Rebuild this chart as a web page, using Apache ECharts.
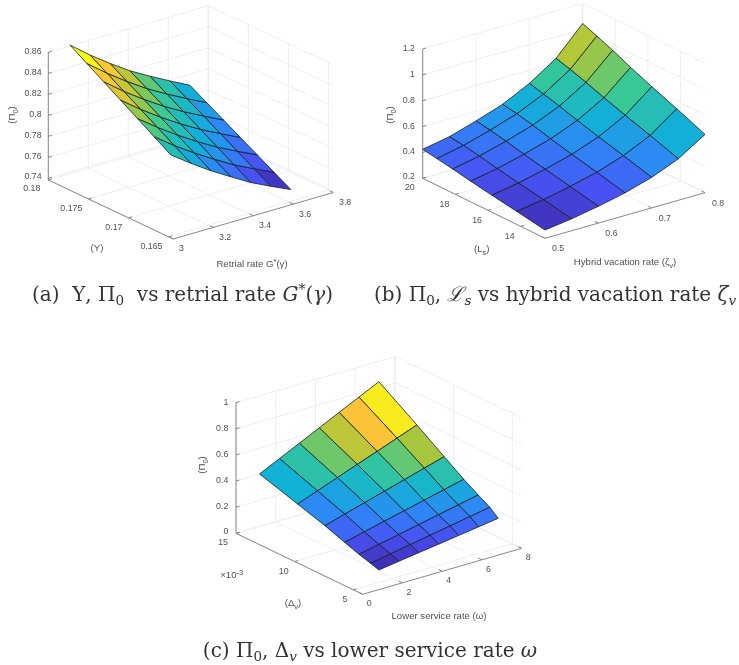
<!DOCTYPE html>
<html><head><meta charset="utf-8">
<style>html,body{margin:0;padding:0;background:#fff}#c{width:739px;height:665px}</style>
<script src="https://cdn.jsdelivr.net/npm/echarts@6/dist/echarts.min.js"></script>
</head><body><div id="c"></div>
<script>
// ---------- data ----------
const xTicksA = [3, 3.2, 3.4, 3.6, 3.8];
const yTicksA = [0.18, 0.175, 0.17, 0.165];
const zTicksA = [0.74, 0.76, 0.78, 0.8, 0.82, 0.84, 0.86];
const xLabelsA = ['3', '3.2', '3.4', '3.6', '3.8'];
const yLabelsA = ['0.18', '0.175', '0.17', '0.165'];
const zLabelsA = ['0.74', '0.76', '0.78', '0.8', '0.82', '0.84', '0.86'];
const xGridA = [3.1, 3.2, 3.3, 3.4, 3.5, 3.6, 3.7];
const yGridA = [0.1798, 0.1777, 0.1756, 0.1735, 0.1714, 0.1693, 0.1672];
const zGridA = [
  [.8622,.8471,.8336,.8210,.8103,.8003,.7906],
  [.8523,.8375,.8241,.8117,.8010,.7911,.7816],
  [.8424,.8278,.8146,.8025,.7917,.7820,.7726],
  [.8325,.8182,.8052,.7932,.7824,.7728,.7636],
  [.8226,.8086,.7957,.7839,.7730,.7636,.7546],
  [.8127,.7989,.7862,.7747,.7637,.7545,.7456],
  [.8028,.7893,.7767,.7654,.7544,.7453,.7366]
];
// face colour values of panel (a), read from the faces themselves
const cFaceA = [
  [.8622,.8459,.8295,.8145,.8020,.7894],
  [.8459,.8320,.8195,.8070,.7956,.7806],
  [.8371,.8220,.8094,.7981,.7868,.7730],
  [.8233,.8107,.7994,.7894,.7780,.7642],
  [.8120,.7994,.7894,.7780,.7680,.7554],
  [.7994,.7868,.7743,.7642,.7542,.7429]
];
const xTicksB = [0.5, 0.6, 0.7, 0.8];
const yTicksB = [20, 18, 16, 14];
const zTicksB = [0.2, 0.4, 0.6, 0.8, 1, 1.2];
const xLabelsB = ['0.5', '0.6', '0.7', '0.8'];
const yLabelsB = ['20', '18', '16', '14'];
const zLabelsB = ['0.2', '0.4', '0.6', '0.8', '1', '1.2'];
const xGridB = [0.5, 0.55, 0.6, 0.65, 0.7, 0.75, 0.8];
const yGridB = [12.5, 14.23, 15.76, 17.06, 18.16, 19.13, 20];
const zGridB = [
  [.264,.292,.330,.375,.436,.521,.651],
  [.301,.333,.376,.427,.497,.594,.742],
  [.332,.367,.415,.471,.548,.656,.818],
  [.360,.398,.450,.511,.594,.711,.887],
  [.386,.427,.483,.548,.637,.762,.951],
  [.406,.449,.508,.577,.670,.802,1.001],
  [.424,.463,.526,.596,.699,.834,1.045]
];
const xTicksC = [0, 2, 4, 6, 8];
const yTicksC = [15, 10, 5];
const zTicksC = [0, 0.2, 0.4, 0.6, 0.8, 1];
const xLabelsC = ['0', '2', '4', '6', '8'];
const yLabelsC = ['15', '10', '5'];
const zLabelsC = ['0', '0.2', '0.4', '0.6', '0.8', '1'];
const xGridC = [1.17, 2.17, 3.17, 4.17, 5.17, 6.17, 7.17];
const yGridC = [4.8, 5.51, 6.5, 7.73, 9.4, 11.73, 14.97];
const zGridC = [
  [.109,.131,.153,.174,.196,.218,.240],
  [.129,.157,.184,.212,.239,.267,.294],
  [.155,.187,.218,.250,.282,.313,.345],
  [.194,.230,.267,.303,.339,.376,.412],
  [.249,.293,.337,.381,.425,.469,.513],
  [.314,.371,.428,.485,.541,.598,.655],
  [.404,.478,.551,.625,.699,.772,.846]
];
// ---------- view set-up ----------
const SANS = '"Liberation Sans", Arial, sans-serif';
const SERIF = '"DejaVu Serif", "Liberation Serif", serif';
const TICK_FS = 8.8, TITLE_FS = 9.6, TEXT = '#505050';
const SUB = {fontSize: 7.5, fontFamily: SANS, fill: TEXT, color: TEXT, verticalAlign: 'bottom', padding: [7, 0, 0, 0]};
const panels = [
 {x: xGridA, y: yGridA, z: zGridA, face: cFaceA, xT: xTicksA, yT: yTicksA, zT: zTicksA, xL: xLabelsA, yL: yLabelsA, zL: zLabelsA,
  L: [48.3,180], F: [173.3,239], R: [333.3,192.5], zs: 1050,
  xr: [3,3.8], yr: [0.1644,0.18], zr: [0.7384,0.861], clim: [0.7366,0.8622], xdx: 5.7, xdy: 10, zdx: 6.7,
  titles: [
   {t: '(Π{s|0})', p: [12,115], r: 1}, {t: '(Υ)', p: [97,248]},
   {t: 'Retrial rate G{u|*}(γ)', p: [252,264]}
  ]},
 {x: xGridB, y: yGridB, z: zGridB, xT: xTicksB, yT: yTicksB, zT: zTicksB, xL: xLabelsB, yL: yLabelsB, zL: zLabelsB,
  L: [422.7,178.3], F: [545,238.3], R: [705,192.7], zs: 129.3,
  xr: [0.5,0.8], yr: [12.5,20], zr: [0.2,1.2], clim: [0.264,1.045], xdx: 7, xdy: 10.5, zdx: 7.7,
  titles: [
   {t: '(Π{s|0})', p: [390,115], r: 1}, {t: '(L{s|s})', p: [481.7,249]},
   {t: 'Hybrid vacation rate (ζ{s|v})', p: [625,262.5]}
  ]},
 {x: xGridC, y: yGridC, z: zGridC, xT: xTicksC, yT: yTicksC, zT: zTicksC, xL: xLabelsC, yL: yLabelsC, zL: zLabelsC,
  L: [236,533.3], F: [362.7,594.3], R: [521.7,548.3], zs: 130.67,
  xr: [0,8], yr: [4.2,15], zr: [0,1], clim: [0.109,0.80], xdx: 4, xdy: 9.5, zdx: 7.7,
  titles: [
   {t: '(Π{s|0})', p: [202.7,465], r: 1}, {t: '×10{u|-3}', p: [231.7,575]},
   {t: '(Δ{s|v})', p: [293,603]}, {t: 'Lower service rate (ω)', p: [439,616]}
  ]}
];
const captions = [
 {t: '{m|(a)  Υ, Π}{b|0}{m|  vs retrial rate }{i|G}{p|*}{m|(}{i|γ}{m|)}', x: 182.5, y: 296},
 {t: '{m|(b) Π}{b|0}{m|, }{i|ℒ}{bi|s}{m| vs hybrid vacation rate }{i|ζ}{bi|v}', x: 555, y: 296},
 {t: '{m|(c) Π}{b|0}{m|, Δ}{bi|v}{m| vs lower service rate }{i|ω}', x: 370, y: 652}
];
const parula = [[62,38,168],[72,82,244],[46,135,247],[18,177,214],[55,200,151],[171,199,57],[254,195,56],[249,251,21]];
function colorOf(t) {
  t = Math.max(0, Math.min(1, t)) * (parula.length - 1);
  const i = Math.min(parula.length - 2, Math.floor(t)), f = t - i;
  const c = parula[i].map((v, k) => Math.round(v + (parula[i + 1][k] - v) * f));
  return 'rgb(' + c.join(',') + ')';
}
function project(P, x, y, z) {
  const u = (x - P.xr[0]) / (P.xr[1] - P.xr[0]);
  const v = (P.yr[1] - y) / (P.yr[1] - P.yr[0]);
  return [P.L[0] + v * (P.F[0] - P.L[0]) + u * (P.R[0] - P.F[0]),
          P.L[1] + v * (P.F[1] - P.L[1]) + u * (P.R[1] - P.F[1]) - (z - P.zr[0]) * P.zs];
}
const series = [];
function segSeries(P, segs, stroke, width, name) {
  series.push({type: 'custom', name, coordinateSystem: 'cartesian2d', silent: true, clip: false, animation: false, z: 1,
    data: segs.map(s => s.slice()),
    renderItem: (params, api) => {
      const a = api.coord(project(P, api.value(0), api.value(1), api.value(2)));
      const b = api.coord(project(P, api.value(3), api.value(4), api.value(5)));
      return {type: 'line', shape: {x1: a[0], y1: a[1], x2: b[0], y2: b[1]},
              style: {stroke, lineWidth: width, fill: null}};
    }});
}
panels.forEach((P, n) => {
  const [x0, x1] = P.xr, [y0, y1] = P.yr, [z0, z1] = P.zr;
  const grid = [], axis = [];
  P.xT.forEach(x => { grid.push([x,y0,z0,x,y1,z0], [x,y1,z0,x,y1,z1]); });
  P.yT.forEach(y => { grid.push([x0,y,z0,x1,y,z0], [x1,y,z0,x1,y,z1]); });
  P.zT.forEach(z => { grid.push([x0,y1,z,x1,y1,z], [x1,y1,z,x1,y0,z]); });
  axis.push([x0,y1,z0,x0,y1,P.zT[P.zT.length-1]], [x0,y0,z0,x1,y0,z0], [x0,y1,z0,x0,y0,z0]);
  const dx = (x1 - x0) * 0.022, dy = (y1 - y0) * 0.028;
  P.xT.forEach(x => axis.push([x,y0,z0,x,y0+dy,z0]));
  P.yT.forEach(y => axis.push([x0,y,z0,x0+dx,y,z0]));
  P.zT.forEach(z => axis.push([x0,y1,z,x0+dx,y1,z]));
  segSeries(P, grid, '#ebebeb', 0.8, 'grid' + n);
  segSeries(P, axis, '#7a7a7a', 0.9, 'axis' + n);
  // surface cells
  const cells = [];
  for (let r = P.y.length - 2; r >= 0; r--) for (let c = P.x.length - 2; c >= 0; c--) {
    const cr = P.y[r] > P.y[r + 1] ? r : r + 1;
    const cv = P.face ? P.face[r][c] : P.z[cr][c];
    cells.push([P.x[c],P.y[r],P.z[r][c], P.x[c+1],P.y[r],P.z[r][c+1],
                P.x[c+1],P.y[r+1],P.z[r+1][c+1], P.x[c],P.y[r+1],P.z[r+1][c], cv]);
  }
  series.push({type: 'custom', name: 'surface' + n, coordinateSystem: 'cartesian2d', silent: true, clip: false, animation: false, z: 3,
    data: cells,
    renderItem: (params, api) => {
      const pts = [0,3,6,9].map(o => api.coord(project(P, api.value(o), api.value(o+1), api.value(o+2))));
      return {type: 'polygon', shape: {points: pts},
              style: {fill: colorOf((api.value(12) - P.clim[0]) / (P.clim[1] - P.clim[0])), stroke: '#14201f', lineWidth: 0.8, lineJoin: 'round'}};
    }});
  // tick labels
  const labels = [];
  P.xT.forEach((x, i) => { const q = project(P, x, y0, z0); labels.push({t: P.xL[i], p: [q[0] + P.xdx, q[1] + P.xdy], a: 'left'}); });
  P.yT.forEach((y, i) => { const q = project(P, x0, y, z0); labels.push({t: P.yL[i], p: [q[0] - (i ? 6 : 8), q[1] + (i ? 10 : 9)], a: 'right'}); });
  P.zT.forEach((z, i) => { const q = project(P, x0, y1, z); labels.push({t: P.zL[i], p: [q[0] - P.zdx, q[1] - (i ? 0.5 : 2)], a: 'right'}); });
  P.titles.forEach(t => labels.push({t: t.t, p: t.p, a: 'center', r: t.r, f: TITLE_FS}));
  series.push({type: 'custom', name: 'labels' + n, coordinateSystem: 'cartesian2d', silent: true, clip: false, animation: false, z: 5,
    data: labels.map(l => l.p.slice()),
    renderItem: (params, api) => {
      const l = labels[params.dataIndex], q = api.coord([api.value(0), api.value(1)]);
      return {type: 'text', x: q[0], y: q[1], rotation: l.r ? Math.PI / 2 : 0,
        style: {text: l.t, fontFamily: SANS, fontSize: l.f || TICK_FS, fill: TEXT, align: l.a, verticalAlign: 'middle',
          rich: {s: SUB, u: {fontSize: 7.5, fontFamily: SANS, fill: TEXT, verticalAlign: 'top', padding: [0,0,5,0]}}}};
    }});
});
const CAP_FS = 20;
const base = {fontFamily: SERIF, fontWeight: 'normal', color: '#333'};
const capRich = {
  m: {...base, fontSize: CAP_FS, verticalAlign: 'middle'},
  i: {...base, fontSize: CAP_FS, fontStyle: 'italic', verticalAlign: 'middle'},
  b: {...base, fontSize: 13.5, verticalAlign: 'bottom', padding: [11,0,0,0]},
  bi: {...base, fontSize: 13.5, fontStyle: 'italic', verticalAlign: 'bottom', padding: [11,0,0,0]},
  p: {...base, fontSize: 14, verticalAlign: 'top', padding: [0,0,7,0]}
};
const chart = echarts.init(document.getElementById('c'), null, {renderer: 'canvas'});
chart.setOption({
  backgroundColor: '#fff', animation: false,
  title: captions.map(c => ({text: c.t, left: c.x, top: c.y - 13, textAlign: 'center', padding: 0, textStyle: {fontWeight: 'normal', rich: capRich}})),
  grid: {left: 0, right: 0, top: 0, bottom: 0},
  xAxis: {type: 'value', min: 0, max: 739, show: false},
  yAxis: {type: 'value', min: 0, max: 665, inverse: true, show: false},
  series
});
</script></body></html>
